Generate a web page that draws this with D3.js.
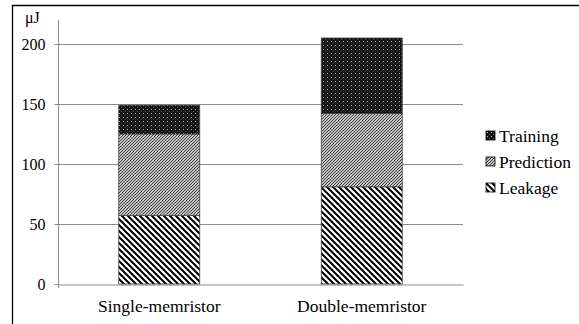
<!DOCTYPE html>
<html>
<head>
<meta charset="utf-8">
<script src="https://cdn.jsdelivr.net/npm/d3@7"></script>
<style>
  body { margin: 0; background: #fff; }
  svg text { font-family: "Liberation Serif", "Times New Roman", serif; fill: #000; }
</style>
</head>
<body>
<svg id="chart"></svg>
<script>
// data
var categories = ["Single-memristor", "Double-memristor"];
var seriesNames = ["Leakage", "Prediction", "Training"];
var leakage = [57, 81];
var prediction = [68, 61];
var training = [24, 63];
var yTicks = [0, 50, 100, 150, 200];

var size = { width: 579, height: 324 };
var margin = { top: 44, right: 116, bottom: 40, left: 58 };
var width = size.width - margin.left - margin.right;
var height = size.height - margin.top - margin.bottom;

var svg = d3.select("#chart")
  .attr("width", size.width)
  .attr("height", size.height);

// patterns
var defs = svg.append("defs");

var pLeak = defs.append("pattern")
  .attr("id", "pat-leakage")
  .attr("patternUnits", "userSpaceOnUse")
  .attr("width", 6).attr("height", 6);
pLeak.append("rect").attr("width", 6).attr("height", 6).attr("fill", "#fff");
pLeak.append("path")
  .attr("d", "M-1,5 l2,2 M0,0 l6,6 M5,-1 l2,2")
  .attr("stroke", "#000").attr("stroke-width", 2);

var pPred = defs.append("pattern")
  .attr("id", "pat-prediction")
  .attr("patternUnits", "userSpaceOnUse")
  .attr("width", 3).attr("height", 3);
pPred.append("rect").attr("width", 3).attr("height", 3).attr("fill", "#fff");
pPred.append("path")
  .attr("d", "M-1,1 l2,-2 M0,3 l3,-3 M2,4 l2,-2")
  .attr("stroke", "#000").attr("stroke-width", 1.1).attr("stroke-opacity", 0.8);

var pTrain = defs.append("pattern")
  .attr("id", "pat-training")
  .attr("patternUnits", "userSpaceOnUse")
  .attr("width", 4).attr("height", 4);
pTrain.append("rect").attr("width", 4).attr("height", 4).attr("fill", "#141414");
pTrain.append("rect").attr("x", 1).attr("y", 1).attr("width", 1).attr("height", 1).attr("fill", "#bbb");
pTrain.append("rect").attr("x", 3).attr("y", 3).attr("width", 1).attr("height", 1).attr("fill", "#555");

var fills = { Leakage: "url(#pat-leakage)", Prediction: "url(#pat-prediction)", Training: "url(#pat-training)" };

// outer frame
svg.append("path")
  .attr("d", "M12.5," + size.height + " V5.5 H" + size.width)
  .attr("fill", "none").attr("stroke", "#000").attr("stroke-width", 1.3);

var g = svg.append("g")
  .attr("transform", "translate(" + margin.left + "," + margin.top + ")");

var x = d3.scaleBand()
  .domain(categories)
  .range([0, width])
  .paddingInner(0.6)
  .paddingOuter(0.3);

var y = d3.scaleLinear()
  .domain([0, 200])
  .range([height, 0]);

// grid lines
g.append("g").selectAll("line")
  .data(yTicks.slice(1))
  .enter().append("line")
  .attr("x1", 0).attr("x2", width)
  .attr("y1", function(d){ return Math.round(y(d)) + 0.5; })
  .attr("y2", function(d){ return Math.round(y(d)) + 0.5; })
  .attr("stroke", "#8c8c8c").attr("stroke-width", 1);

// y axis
var yAxis = d3.axisLeft(y).tickValues(yTicks).tickSize(4).tickPadding(9);
var yG = g.append("g").attr("transform", "translate(0.5,0)").call(yAxis);
yG.select(".domain").remove();
yG.selectAll(".tick line").attr("stroke", "#8c8c8c");
yG.selectAll("text").style("font-size", "16px");
g.append("line")
  .attr("x1", 0.5).attr("x2", 0.5)
  .attr("y1", -24).attr("y2", height + 4)
  .attr("stroke", "#8c8c8c");

// x axis
var xAxis = d3.axisBottom(x).tickSize(0).tickPadding(15);
var xG = g.append("g").attr("transform", "translate(0," + (height + 0.5) + ")").call(xAxis);
xG.select(".domain").attr("stroke", "#8c8c8c");
xG.selectAll("text").style("font-size", "17.5px");

// unit label
g.append("text")
  .attr("x", -33).attr("y", -21)
  .style("font-size", "16px")
  .text("μJ");

// stacked bars
var rows = categories.map(function(c, i){
  return { category: c, Leakage: leakage[i], Prediction: prediction[i], Training: training[i] };
});
var stack = d3.stack().keys(seriesNames)(rows);

g.append("g").selectAll("g")
  .data(stack)
  .enter().append("g")
  .attr("fill", function(d){ return fills[d.key]; })
  .selectAll("rect")
  .data(function(d){ return d; })
  .enter().append("rect")
  .attr("x", function(d){ return x(d.data.category); })
  .attr("y", function(d){ return y(d[1]); })
  .attr("width", x.bandwidth())
  .attr("height", function(d){ return y(d[0]) - y(d[1]); })
  .attr("stroke", "#444").attr("stroke-width", 0.8);

// legend
var legend = svg.append("g")
  .attr("transform", "translate(486,131)");
var legendItems = seriesNames.slice().reverse();
var li = legend.selectAll("g")
  .data(legendItems)
  .enter().append("g")
  .attr("transform", function(d, i){ return "translate(0," + (i * 26) + ")"; });
li.append("rect")
  .attr("width", 9).attr("height", 9)
  .attr("fill", function(d){ return fills[d]; })
  .attr("stroke", "#000").attr("stroke-width", 0.8);
li.append("text")
  .attr("x", 13).attr("y", 10.5)
  .style("font-size", "17.5px")
  .text(function(d){ return d; });
</script>
</body>
</html>
